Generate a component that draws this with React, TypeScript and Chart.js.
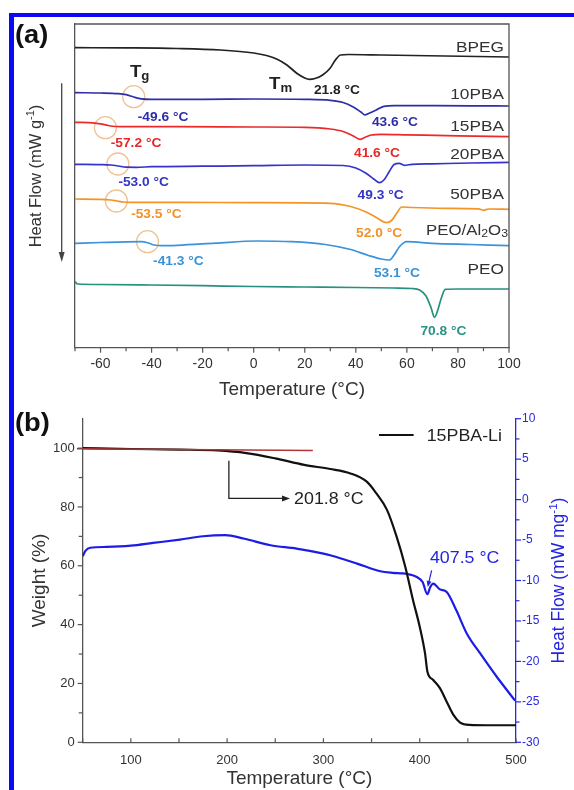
import React, { useEffect, useRef } from 'react';
import { Chart, registerables } from 'chart.js';

Chart.register(...registerables);

const FONT = '"Liberation Sans", Arial, Helvetica, sans-serif';

// ---------- Panel (a): DSC curves (temperature °C, heat flow in offset arbitrary units) ----------
const bpegT = [-70, -50, -30, -13, 0, 5, 9, 13, 17, 20, 21.8, 24, 27, 30, 32, 34, 37, 50, 75, 100];
const bpegHF = [29.9, 29.88, 29.82, 29.67, 29.37, 29.12, 28.77, 28.17, 27.32, 26.87, 26.74, 26.82, 27.17, 27.87, 28.67, 29.17, 29.22, 29.17, 29.07, 28.97];

const pba10T = [-70, -60, -53, -50, -47, -44, -40, -20, 0, 20, 30, 35, 39, 42, 43.6, 45, 48, 51, 55, 70, 85, 100];
const pba10HF = [25.4, 25.37, 25.3, 25.2, 24.97, 24.79, 24.74, 24.74, 24.77, 24.74, 24.64, 24.42, 23.97, 23.47, 23.17, 23.32, 23.67, 24.04, 24.1, 24.1, 24.09, 24.07];

const pba15T = [-70, -63, -60, -57, -54, -50, -30, 0, 20, 30, 35, 39, 41.6, 43.5, 46, 50, 60, 80, 100];
const pba15HF = [22.44, 22.39, 22.29, 22.12, 22.02, 22.0, 22.0, 21.97, 21.94, 21.77, 21.52, 21.07, 20.74, 20.92, 21.17, 21.24, 21.19, 21.09, 21.0];

const pba20T = [-70, -60, -56, -53, -50, -46, -40, -20, 0, 20, 35, 40, 44, 47, 49.3, 51, 53, 55, 57, 59, 62, 70, 85, 100];
const pba20HF = [18.24, 18.21, 18.17, 18.07, 17.95, 17.94, 18.0, 18.05, 18.1, 18.17, 18.12, 17.87, 17.34, 16.77, 16.4, 16.67, 17.47, 18.22, 18.34, 18.14, 18.24, 18.29, 18.37, 18.44];

const pba50T = [-70, -60, -56, -53.5, -51, -48, -30, 0, 30, 38, 44, 48, 52, 54, 56, 58, 62, 75, 88, 90, 92, 100];
const pba50HF = [14.77, 14.74, 14.67, 14.57, 14.47, 14.44, 14.44, 14.4, 14.34, 14.02, 13.47, 12.92, 12.4, 12.62, 13.34, 13.97, 13.92, 13.84, 13.79, 13.64, 13.77, 13.74];

const peoAlT = [-70, -60, -50, -44, -41.3, -39, -36, -30, -15, 1, 15, 28, 38, 45, 50, 53.1, 55, 57, 60, 70, 85, 100];
const peoAlHF = [10.34, 10.42, 10.49, 10.5, 10.37, 10.17, 10.1, 10.14, 10.35, 10.57, 10.5, 10.22, 9.72, 9.12, 8.77, 8.67, 9.17, 9.97, 10.5, 10.34, 10.22, 10.1];

const peoT = [-70, -69, -60, -40, -20, 0, 20, 40, 55, 62, 65, 67.5, 69.5, 70.8, 72, 73.5, 75, 80, 100];
const peoHF = [6.5, 6.27, 6.22, 6.17, 6.1, 6.02, 5.97, 5.92, 5.87, 5.82, 5.67, 5.07, 3.87, 2.94, 3.57, 4.87, 5.74, 5.77, 5.77];

const dscNames = ['BPEG', '10PBA', '15PBA', '20PBA', '50PBA', 'PEO/Al2O3', 'PEO'];
const dscColors = ['#222222', '#2e2ea8', '#ec2a2a', '#3434cc', '#f39425', '#3b93dc', '#28907e'];
const dscTemps = [bpegT, pba10T, pba15T, pba20T, pba50T, peoAlT, peoT];
const dscFlows = [bpegHF, pba10HF, pba15HF, pba20HF, pba50HF, peoAlHF, peoHF];

// Tg marker circles
const tgCircleT = [-47.0, -58.1, -53.2, -53.8, -41.6];
const tgCircleHF = [25.0, 21.9, 18.27, 14.57, 10.5];

// curve-name labels (right aligned)
const nameLabelHF = [30.0, 25.27, 22.07, 19.27, 15.34, 11.67, 7.84];

// temperature annotations
const tempText = ['21.8 °C', '-49.6 °C', '43.6 °C', '-57.2 °C', '41.6 °C', '-53.0 °C', '49.3 °C', '-53.5 °C', '52.0 °C', '-41.3 °C', '53.1 °C', '70.8 °C'];
const tempAtT = [32.6, -35.5, 55.3, -46.1, 48.3, -43.1, 49.7, -38.1, 49.1, -29.5, 56.1, 74.3];
const tempAtHF = [25.74, 23.07, 22.5, 20.44, 19.4, 16.57, 15.24, 13.34, 11.4, 8.67, 7.44, 1.6];
const tempColor = ['#222222', '#2e2ea8', '#2e2ea8', '#e62828', '#e62828', '#3434c4', '#3434c4', '#f0922a', '#f0922a', '#3a92d6', '#3a92d6', '#2a9484'];

// ---------- Panel (b): TGA + DSC of 15PBA-Li ----------
const tgaT = [50, 100, 150, 190, 220, 250, 280, 307, 328, 345, 355, 366, 376, 385, 393, 400, 405.5, 408, 414, 421, 428, 435, 442, 452, 470, 500];
const tgaWeight = [100, 99.7, 99.5, 99.2, 98.3, 96.5, 94.3, 92.9, 91.4, 88.6, 84.6, 79.0, 69.9, 59.7, 48.4, 39.3, 30.3, 24.0, 21.2, 18.4, 13.8, 9.3, 6.7, 5.9, 5.8, 5.8];

const hfT = [50, 53, 58, 75, 100, 123, 151, 175, 198, 217, 245, 272, 300, 307, 335, 359, 372, 383, 391, 397, 403, 407.9, 411, 414, 421, 428, 438, 449, 463, 480, 499];
const hfFlow = [-7.0, -6.3, -5.95, -5.85, -5.7, -5.36, -4.94, -4.53, -4.4, -4.81, -5.64, -6.05, -6.67, -6.88, -7.91, -8.86, -9.05, -9.12, -9.3, -9.57, -10.19, -11.7, -10.8, -10.38, -11.1, -11.42, -13.69, -16.58, -19.05, -21.9, -24.84];

const tangentT = [44, 289];
const tangentWeight = [99.8, 99.2];

type Seg = { s: string; size: number; bold?: boolean; dy?: number };

function drawRich(ctx: CanvasRenderingContext2D, segs: Seg[], x: number, cy: number, color: string, align: 'left' | 'center' | 'right', sx = 1) {
  ctx.save();
  ctx.translate(x, cy + segs[0].size * 0.36);
  ctx.scale(sx, 1);
  ctx.fillStyle = color;
  ctx.textBaseline = 'alphabetic';
  ctx.textAlign = 'left';
  const fontOf = (g: Seg) => `${g.bold ? 'bold ' : ''}${g.size}px ${FONT}`;
  const widths = segs.map((g) => {
    ctx.font = fontOf(g);
    return ctx.measureText(g.s).width;
  });
  const total = widths.reduce((a, b) => a + b, 0);
  let cx = align === 'left' ? 0 : align === 'center' ? -total / 2 : -total;
  segs.forEach((g, i) => {
    ctx.font = fontOf(g);
    ctx.fillText(g.s, cx, g.dy || 0);
    cx += widths[i];
  });
  ctx.restore();
}

function arrowHead(ctx: CanvasRenderingContext2D, x: number, y: number, ang: number, len: number, half: number) {
  ctx.beginPath();
  ctx.moveTo(x, y);
  ctx.lineTo(x - len * Math.cos(ang) + half * Math.sin(ang), y - len * Math.sin(ang) - half * Math.cos(ang));
  ctx.lineTo(x - len * Math.cos(ang) - half * Math.sin(ang), y - len * Math.sin(ang) + half * Math.cos(ang));
  ctx.closePath();
  ctx.fill();
}

const panelAPlugin = {
  id: 'panelA',
  afterDraw(chart: any) {
    const { ctx, chartArea: ca, scales } = chart;
    const x = scales.x;
    const y = scales.y;
    ctx.save();
    // frame top + right
    ctx.strokeStyle = '#555';
    ctx.lineWidth = 1.3;
    ctx.beginPath();
    ctx.moveTo(ca.left, ca.top);
    ctx.lineTo(ca.right, ca.top);
    ctx.lineTo(ca.right, ca.bottom);
    ctx.stroke();
    // x tick marks (outward)
    ctx.lineWidth = 1.2;
    x.ticks.forEach((t: any) => {
      const px = x.getPixelForValue(t.value);
      ctx.beginPath();
      ctx.moveTo(px, ca.bottom);
      ctx.lineTo(px, ca.bottom + (t.value % 20 === 0 ? 5 : 3.5));
      ctx.stroke();
    });
    // curve names
    dscNames.forEach((n, i) => {
      const yy = y.getPixelForValue(nameLabelHF[i]);
      if (n === 'PEO/Al2O3') {
        drawRich(ctx, [
          { s: 'PEO/Al', size: 15 },
          { s: '2', size: 11, dy: 2 },
          { s: 'O', size: 15 },
          { s: '3', size: 11, dy: 2 },
        ], x.getPixelForValue(99.6), yy, '#333', 'right', 1.12);
      } else {
        drawRich(ctx, [{ s: n, size: 15 }], x.getPixelForValue(98.0), yy, '#333', 'right', 1.15);
      }
    });
    // temperature labels
    tempText.forEach((s, i) => {
      drawRich(ctx, [{ s, size: 12.5, bold: true }], x.getPixelForValue(tempAtT[i]), y.getPixelForValue(tempAtHF[i]), tempColor[i], 'center', 1.1);
    });
    // Tg, Tm
    drawRich(ctx, [{ s: 'T', size: 17, bold: true }, { s: 'g', size: 12, bold: true, dy: 3 }], x.getPixelForValue(-48.5), y.getPixelForValue(27.57), '#222', 'left', 1.1);
    drawRich(ctx, [{ s: 'T', size: 17, bold: true }, { s: 'm', size: 12, bold: true, dy: 3 }], x.getPixelForValue(6.0), y.getPixelForValue(26.37), '#222', 'left', 1.1);
    // (a)
    drawRich(ctx, [{ s: '(a)', size: 26, bold: true }], 15, 34, '#111', 'left', 1.05);
    // y title rotated
    ctx.save();
    ctx.translate(35, 176);
    ctx.rotate(-Math.PI / 2);
    drawRich(ctx, [
      { s: 'Heat Flow (mW g', size: 16.5 },
      { s: '-1', size: 11, dy: -7 },
      { s: ')', size: 16.5 },
    ], 0, 0, '#333', 'center', 1);
    ctx.restore();
    // downward arrow
    ctx.strokeStyle = '#444';
    ctx.fillStyle = '#444';
    ctx.lineWidth = 1.3;
    ctx.beginPath();
    ctx.moveTo(61.7, 83.3);
    ctx.lineTo(61.7, 255);
    ctx.stroke();
    arrowHead(ctx, 61.7, 262, Math.PI / 2, 10, 3);
    ctx.restore();
  },
};

const panelBPlugin = {
  id: 'panelB',
  afterDraw(chart: any) {
    const { ctx, chartArea: ca, scales } = chart;
    const x = scales.x;
    const y = scales.y;
    const y1 = scales.y1;
    ctx.save();
    ctx.lineWidth = 1.2;
    // x ticks (inward)
    ctx.strokeStyle = '#555';
    x.ticks.forEach((t: any) => {
      const px = x.getPixelForValue(t.value);
      ctx.beginPath();
      ctx.moveTo(px, ca.bottom);
      ctx.lineTo(px, ca.bottom - 4);
      ctx.stroke();
    });
    // left ticks (outward)
    y.ticks.forEach((t: any) => {
      if (t.value > 100) return;
      const py = y.getPixelForValue(t.value);
      ctx.beginPath();
      ctx.moveTo(ca.left - (t.value % 20 === 0 ? 5 : 4), py);
      ctx.lineTo(ca.left, py);
      ctx.stroke();
    });
    // right ticks (outward, blue)
    ctx.strokeStyle = '#2828e0';
    y1.ticks.forEach((t: any) => {
      const py = y1.getPixelForValue(t.value);
      ctx.beginPath();
      ctx.moveTo(ca.right, py);
      ctx.lineTo(ca.right + (t.value % 5 === 0 ? 5 : 3.5), py);
      ctx.stroke();
    });
    // (b)
    drawRich(ctx, [{ s: '(b)', size: 26, bold: true }], 15, 22, '#111', 'left', 1.05);
    // right title
    ctx.save();
    ctx.translate(558, (ca.top + ca.bottom) / 2);
    ctx.rotate(-Math.PI / 2);
    drawRich(ctx, [
      { s: 'Heat Flow (mW mg', size: 17.5 },
      { s: '-1', size: 11.5, dy: -7.5 },
      { s: ')', size: 17.5 },
    ], 0, 0, '#2424e0', 'center', 1);
    ctx.restore();
    // legend
    ctx.strokeStyle = '#111';
    ctx.lineWidth = 2;
    ctx.beginPath();
    ctx.moveTo(379, 35);
    ctx.lineTo(413.6, 35);
    ctx.stroke();
    drawRich(ctx, [{ s: '15PBA-Li', size: 16.5 }], 426.7, 35, '#222', 'left', 1.08);
    // onset annotation
    ctx.strokeStyle = '#222';
    ctx.fillStyle = '#222';
    ctx.lineWidth = 1.3;
    const ox = x.getPixelForValue(201.8);
    const oyTop = y.getPixelForValue(95.7);
    const oyBot = y.getPixelForValue(82.9);
    const oxEnd = x.getPixelForValue(265.3);
    ctx.beginPath();
    ctx.moveTo(ox, oyTop);
    ctx.lineTo(ox, oyBot);
    ctx.lineTo(oxEnd - 6, oyBot);
    ctx.stroke();
    arrowHead(ctx, oxEnd, oyBot, 0, 8, 3);
    drawRich(ctx, [{ s: '201.8 °C', size: 16.5 }], x.getPixelForValue(269.5), oyBot, '#222', 'left', 1.08);
    // 407.5 annotation
    ctx.strokeStyle = '#2424e0';
    ctx.fillStyle = '#2424e0';
    ctx.lineWidth = 1.2;
    const ax0 = x.getPixelForValue(412.4);
    const ay0 = y1.getPixelForValue(-8.74);
    const ax1 = x.getPixelForValue(408.3);
    const ay1 = y1.getPixelForValue(-10.8);
    const ang = Math.atan2(ay1 - ay0, ax1 - ax0);
    ctx.beginPath();
    ctx.moveTo(ax0, ay0);
    ctx.lineTo(ax1 - 5 * Math.cos(ang), ay1 - 5 * Math.sin(ang));
    ctx.stroke();
    arrowHead(ctx, ax1, ay1, ang, 6, 2.5);
    drawRich(ctx, [{ s: '407.5 °C', size: 16.5 }], x.getPixelForValue(410.6), y1.getPixelForValue(-7.09), '#2424e0', 'left', 1.08);
    ctx.restore();
  },
};

function PanelA() {
  const ref = useRef<HTMLCanvasElement>(null);
  useEffect(() => {
    if (!ref.current) return;
    const datasets: any[] = dscNames.map((n, i) => ({
      label: n,
      data: dscTemps[i].map((t, k) => ({ x: t, y: dscFlows[i][k] })),
      borderColor: dscColors[i],
      borderWidth: 1.7,
      pointRadius: 0,
      cubicInterpolationMode: 'monotone',
      fill: false,
    }));
    datasets.push({
      label: 'Tg',
      data: tgCircleT.map((t, k) => ({ x: t, y: tgCircleHF[k] })),
      showLine: false,
      pointRadius: 11,
      pointStyle: 'circle',
      pointBackgroundColor: 'rgba(0,0,0,0)',
      pointBorderColor: '#f0c393',
      pointBorderWidth: 1.3,
      borderColor: '#f0c393',
    });
    const chart = new Chart(ref.current, {
      type: 'line',
      data: { datasets },
      options: {
        animation: false,
        responsive: false,
        layout: { padding: { top: 24, right: 65, left: 0, bottom: 0 } },
        plugins: { legend: { display: false }, tooltip: { enabled: false } },
        scales: {
          x: {
            type: 'linear',
            min: -70,
            max: 100,
            position: 'bottom',
            grid: { display: false, drawTicks: false },
            border: { display: true, color: '#555', width: 1.3 },
            ticks: {
              stepSize: 10,
              autoSkip: false,
              maxRotation: 0,
              padding: 8,
              color: '#333',
              font: { size: 14, family: FONT },
              callback: (v: any) => (Number(v) % 20 === 0 ? String(v) : ''),
            },
            title: { display: true, text: 'Temperature (°C)', color: '#333', font: { size: 19, family: FONT }, padding: { top: 0, bottom: -1 } },
            afterFit: (s: any) => { s.height = 52.3; s.paddingLeft = 0; s.paddingRight = 0; },
          },
          y: {
            type: 'linear',
            min: -0.1,
            max: 32.27,
            grid: { display: false, drawTicks: false },
            border: { display: true, color: '#555', width: 1.3 },
            ticks: { display: false },
            afterFit: (s: any) => { s.width = 75; s.paddingTop = 0; s.paddingBottom = 0; },
          },
        },
      } as any,
      plugins: [panelAPlugin],
    });
    return () => chart.destroy();
  }, []);
  return <canvas ref={ref} width={574} height={400} style={{ position: 'absolute', left: 0, top: 0, width: 574, height: 400 }} />;
}

function PanelB() {
  const ref = useRef<HTMLCanvasElement>(null);
  useEffect(() => {
    if (!ref.current) return;
    const chart = new Chart(ref.current, {
      type: 'line',
      data: {
        datasets: [
          {
            label: 'tangent',
            data: tangentT.map((t, k) => ({ x: t, y: tangentWeight[k] })),
            yAxisID: 'y',
            borderColor: '#b23434',
            borderWidth: 1.6,
            pointRadius: 0,
            clip: false,
            order: 0,
          },
          {
            label: '15PBA-Li',
            data: tgaT.map((t, k) => ({ x: t, y: tgaWeight[k] })),
            yAxisID: 'y',
            borderColor: '#111111',
            borderWidth: 2.2,
            pointRadius: 0,
            cubicInterpolationMode: 'monotone',
            order: 1,
          },
          {
            label: 'Heat flow',
            data: hfT.map((t, k) => ({ x: t, y: hfFlow[k] })),
            yAxisID: 'y1',
            borderColor: '#1c1ce6',
            borderWidth: 2.2,
            pointRadius: 0,
            cubicInterpolationMode: 'monotone',
            order: 2,
          },
        ] as any,
      },
      options: {
        animation: false,
        responsive: false,
        layout: { padding: { top: 18.7, right: 0, left: 0, bottom: 0 } },
        plugins: { legend: { display: false }, tooltip: { enabled: false } },
        scales: {
          x: {
            type: 'linear',
            min: 50,
            max: 500,
            position: 'bottom',
            grid: { display: false, drawTicks: false },
            border: { display: true, color: '#555', width: 1.3 },
            ticks: {
              stepSize: 50,
              autoSkip: false,
              maxRotation: 0,
              padding: 10,
              color: '#333',
              font: { size: 13, family: FONT },
              callback: (v: any) => (Number(v) % 100 === 0 ? String(v) : ''),
            },
            title: { display: true, text: 'Temperature (°C)', color: '#333', font: { size: 19, family: FONT }, padding: { top: 0, bottom: 0 } },
            afterFit: (s: any) => { s.height = 47.7; s.paddingLeft = 0; s.paddingRight = 0; },
          },
          y: {
            type: 'linear',
            position: 'left',
            min: 0,
            max: 110,
            grid: { display: false, drawTicks: false },
            border: { display: true, color: '#555', width: 1.3 },
            ticks: {
              stepSize: 10,
              autoSkip: false,
              padding: 8,
              color: '#333',
              font: { size: 13, family: FONT },
              callback: (v: any) => (Number(v) % 20 === 0 && Number(v) <= 100 ? String(v) : ''),
            },
            title: { display: true, text: 'Weight (%)', color: '#333', font: { size: 19, family: FONT }, padding: { top: 28.6, bottom: 0 } },
            afterFit: (s: any) => { s.width = 82.7; s.paddingTop = 0; s.paddingBottom = 0; },
          },
          y1: {
            type: 'linear',
            position: 'right',
            min: -30,
            max: 10,
            grid: { display: false, drawTicks: false },
            border: { display: true, color: '#2828e0', width: 1.3 },
            ticks: {
              stepSize: 2.5,
              autoSkip: false,
              padding: 6,
              color: '#2828e0',
              font: { size: 12, family: FONT },
              callback: (v: any) => (Number(v) % 5 === 0 ? String(v) : ''),
            },
            afterFit: (s: any) => { s.width = 58; s.paddingTop = 0; s.paddingBottom = 0; },
          },
        },
      } as any,
      plugins: [panelBPlugin],
    });
    return () => chart.destroy();
  }, []);
  return <canvas ref={ref} width={574} height={390} style={{ position: 'absolute', left: 0, top: 400, width: 574, height: 390 }} />;
}

export default function App() {
  return (
    <div style={{ position: 'absolute', left: 0, top: 0, width: 574, height: 790, background: '#ffffff', overflow: 'hidden' }}>
      <PanelA />
      <PanelB />
      <div
        style={{
          position: 'absolute',
          left: 9,
          top: 13,
          width: 565,
          height: 777,
          borderLeft: '5px solid #0a0af5',
          borderTop: '4px solid #0a0af5',
          boxSizing: 'border-box',
          pointerEvents: 'none',
        }}
      />
    </div>
  );
}
